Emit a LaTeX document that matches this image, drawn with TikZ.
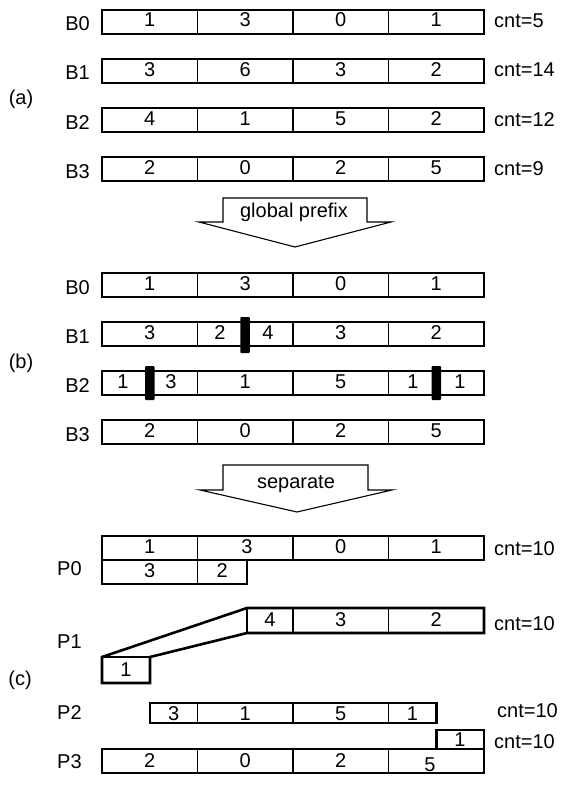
\documentclass[tikz,border=0pt]{standalone}
\usepackage{fontspec}
\setmainfont{Liberation Sans}
\begin{document}
\begin{tikzpicture}[x=1pt,y=-1pt,
  txt/.style={font=\fontsize{20}{24}\selectfont, inner sep=0pt, anchor=base},
  lbl/.style={txt, anchor=base east},
  cntl/.style={txt, anchor=base west},
  thinln/.style={line width=1.2pt},
  thickln/.style={line width=2.6pt, line join=miter},
  bar/.style={fill=black, draw=none, rounded corners=1pt},
  blockarrow/.style={line width=1.1pt, line join=miter}]
\useasboundingbox (0,0) rectangle (567,800);

% ---------- (a) ----------
\node[txt] (la) at (21,104) {(a)};
\foreach \r/\t/\a/\b/\c/\d/\n in {0/10/1/3/0/1/5, 1/59/3/6/3/2/14, 2/108/4/1/5/2/12, 3/157/2/0/2/5/9}{
  \draw[thinln] (102,\t) rectangle (484,\t+24);
  \foreach \x in {197.5,293,388.5} \draw[thinln] (\x,\t) -- (\x,\t+24);
  \node[lbl] (aB\r) at (90,\t+21) {B\r};
  \node[txt] (aB\r c1) at (149.75,\t+17) {\a};
  \node[txt] (aB\r c2) at (245.25,\t+17) {\b};
  \node[txt] (aB\r c3) at (340.75,\t+17) {\c};
  \node[txt] (aB\r c4) at (436.25,\t+17) {\d};
  \node[cntl] (aB\r cnt) at (494,\t+18) {cnt=\n};
}

% ---------- arrow: global prefix ----------
\draw[blockarrow] (223,198) -- (367,198) -- (367,222) -- (391,222) -- (295,247)
  -- (199,222) -- (223,222) -- cycle;
\node[txt] (gp) at (294,217) {global prefix};

% ---------- (b) ----------
\node[txt] (lb) at (21,368) {(b)};
\foreach \r/\t in {0/273,1/322,2/371,3/420}{
  \draw[thinln] (102,\t) rectangle (484,\t+24);
  \foreach \x in {197.5,293,388.5} \draw[thinln] (\x,\t) -- (\x,\t+24);
  \node[lbl] (bB\r) at (90,\t+21) {B\r};
}
% B0
\node[txt] (bB0c1) at (149.75,290) {1};
\node[txt] (bB0c2) at (245.25,290) {3};
\node[txt] (bB0c3) at (340.75,290) {0};
\node[txt] (bB0c4) at (436.25,290) {1};
% B1
\node[txt] (bB1c1) at (149.75,339) {3};
\node[txt] (bB1c2a) at (220,339) {2};
\node[txt] (bB1c2b) at (268,339) {4};
\node[txt] (bB1c3) at (340.75,339) {3};
\node[txt] (bB1c4) at (436.25,339) {2};
\fill[bar] (240.25,317) rectangle (249.75,353);
% B2
\node[txt] (bB2c1a) at (123,388) {1};
\node[txt] (bB2c1b) at (171,388) {3};
\node[txt] (bB2c2) at (245.25,388) {1};
\node[txt] (bB2c3) at (340.75,388) {5};
\node[txt] (bB2c4a) at (413,388) {1};
\node[txt] (bB2c4b) at (460,388) {1};
\fill[bar] (145,366) rectangle (154.5,400);
\fill[bar] (431.5,366) rectangle (441,400);
% B3
\node[txt] (bB3c1) at (149.75,437) {2};
\node[txt] (bB3c2) at (245.25,437) {0};
\node[txt] (bB3c3) at (340.75,437) {2};
\node[txt] (bB3c4) at (436.25,437) {5};

% ---------- arrow: separate ----------
\draw[blockarrow] (223,465) -- (368,465) -- (368,490) -- (392,490) -- (297,512)
  -- (200,490) -- (223,490) -- cycle;
\node[txt] (sep) at (296,488) {separate};

% ---------- (c) ----------
\node[txt] (lc) at (20,685) {(c)};

% P0
\node[cntl] (P0) at (57,575) {P0};
\draw[thinln] (102,560) -- (247,560);
\foreach \x in {197.5,293,388.5} \draw[thinln] (\x,536) -- (\x,560);
\draw[thinln] (197.5,560) -- (197.5,584);
\draw[thickln] (102,536) -- (484,536) -- (484,560) -- (247,560) -- (247,584)
  -- (102,584) -- cycle;
\node[txt] (p0c1) at (149.75,553) {1};
\node[txt] (p0c2) at (247,553) {3};
\node[txt] (p0c3) at (340.75,553) {0};
\node[txt] (p0c4) at (436.25,553) {1};
\node[txt] (p0d1) at (149.75,577) {3};
\node[txt] (p0d2) at (222.25,577) {2};
\node[cntl] (p0cnt) at (494,555) {cnt=10};

% P1
\node[cntl] (P1) at (57,648) {P1};
\draw[thinln] (247,608) -- (247,633);
\draw[thinln] (102,657) -- (150,657);
\foreach \x in {293,388.5} \draw[thinln] (\x,608) -- (\x,633);
\draw[thickln] (247,608) -- (484,608) -- (484,633) -- (247,633) -- (150,657)
  -- (150,683) -- (102,683) -- (102,657) -- cycle;
\node[txt] (p1c1) at (270,626) {4};
\node[txt] (p1c2) at (340.75,626) {3};
\node[txt] (p1c3) at (436.25,626) {2};
\node[txt] (p1d1) at (126,676) {1};
\node[cntl] (p1cnt) at (494,630) {cnt=10};

% P2
\node[cntl] (P2) at (57,719) {P2};
\foreach \x in {197.5,293,388.5} \draw[thinln] (\x,703) -- (\x,723);
\draw[thickln] (150,703) rectangle (436.25,723);
\node[txt] (p2c1) at (173.75,720) {3};
\node[txt] (p2c2) at (245.25,720) {1};
\node[txt] (p2c3) at (340.75,720) {5};
\node[txt] (p2c4) at (412.5,720) {1};
\node[cntl] (p2cnt) at (497,717) {cnt=10};

% P3
\node[cntl] (P3) at (57,768) {P3};
\draw[thinln] (436.25,749) -- (484,749);
\foreach \x in {197.5,293,388.5} \draw[thinln] (\x,749) -- (\x,773);
\draw[thickln] (102,749) -- (436.25,749) -- (436.25,730) -- (484,730) -- (484,773)
  -- (102,773) -- cycle;
\node[txt] (p3c1) at (149.75,767) {2};
\node[txt] (p3c2) at (245.25,767) {0};
\node[txt] (p3c3) at (340.75,767) {2};
\node[txt] (p3c4) at (430,771) {5};
\node[txt] (p3e1) at (460,746) {1};
\node[cntl] (p3cnt) at (494,748) {cnt=10};
\end{tikzpicture}
\end{document}
